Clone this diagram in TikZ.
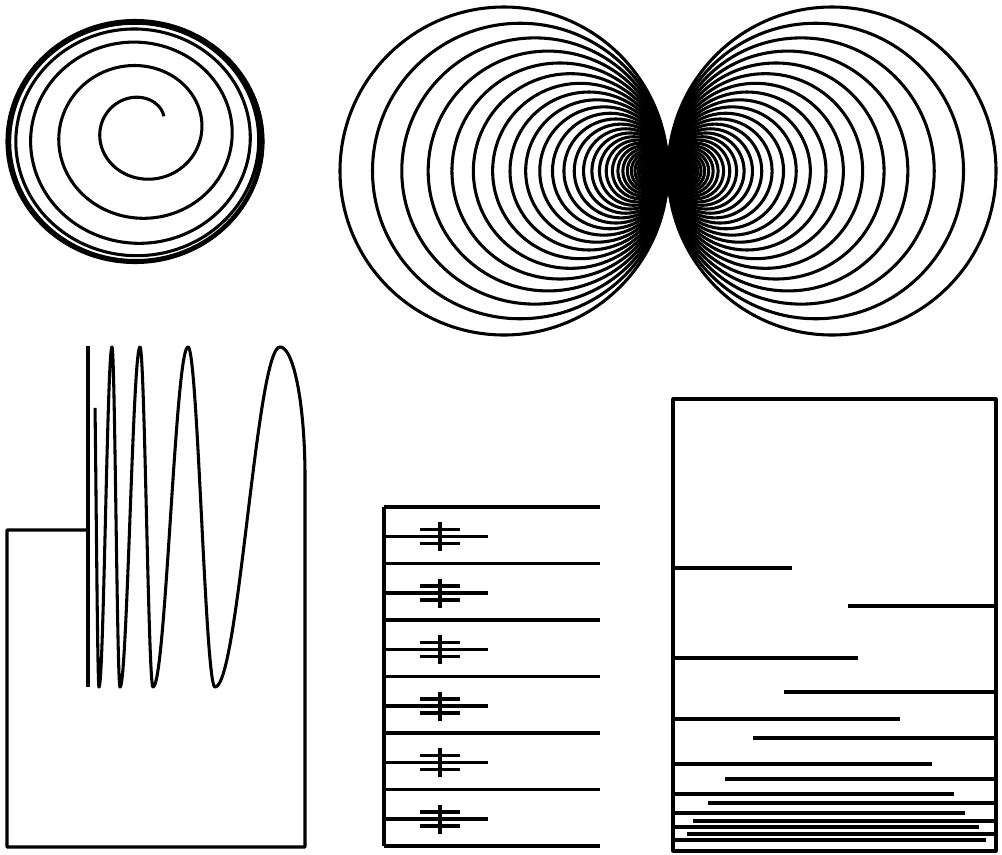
\documentclass[tikz,border=0pt]{standalone}
\usepackage{tikz}
\begin{document}
\begin{tikzpicture}[x=0.75pt,y=0.75pt,yscale=-1]
  \tikzset{
    curve/.style={line width=2.3pt, line join=round},
    ring/.style={line width=2.3pt},
    bar/.style={line width=2.3pt}
  }
  \useasboundingbox (0,0) rectangle (1002,854);

  % spiral winding onto its limit circle
  \draw[curve] (135,141.5) ellipse[x radius=128, y radius=121];
  \draw[curve] plot[domain=0:6, samples=900, variable=\u, smooth]
    ({135+8*exp(-0.4*\u-0.1*\u*\u)+128*(1-0.82*exp(-0.4*\u-0.1*\u*\u))*cos(25+360*\u)},
     {141.5-16*exp(-0.4*\u-0.1*\u*\u)-121*(1-0.82*exp(-0.4*\u-0.1*\u*\u))*sin(25+360*\u)});

  % two families of circles tangent at one point
  \foreach \k in {0,...,42}{
    \pgfmathsetmacro\rk{164/1.11^\k}
    \draw[ring] (668-\rk,171) circle[radius=\rk];
    \draw[ring] (668+\rk,171) circle[radius=\rk];
  }

  % sine curve, its limit segment and the closing arc
  \draw[curve] (88,346) -- (88,687);
  \draw[curve] plot[domain=0.278:1, samples=30] ({93.5+5.5*\x},{517-170*cos(180*\x)})
    -- plot[domain=0:1, samples=40] ({99+13*\x},{517+170*cos(180*\x)})
    -- plot[domain=0:1, samples=40] ({112+8*\x},{517-170*cos(180*\x)})
    -- plot[domain=0:1, samples=40] ({120+20*\x},{517+170*cos(180*\x)})
    -- plot[domain=0:1, samples=40] ({140+13*\x},{517-170*cos(180*\x)})
    -- plot[domain=0:1, samples=40] ({153+35*\x},{517+170*cos(180*\x)})
    -- plot[domain=0:1, samples=40] ({188+27*\x},{517-170*cos(180*\x)})
    -- plot[domain=0:1, samples=40] ({215+65*\x},{517+170*cos(180*\x)})
    -- plot[domain=0:90, samples=30] ({280+25*sin(\x)},{347+130*(1-cos(\x))})
    -- (305,847) -- (7,847) -- (7,530) -- (88,530);

  % comb with crossed teeth
  \draw[curve] (384,507) -- (384,846);
  \foreach \k in {0,...,6}
    \draw[curve] (384,507+56.5*\k) -- (600,507+56.5*\k);
  \foreach \k in {0,...,5}{
    \draw[curve] (384,536.5+56.5*\k) -- (488,536.5+56.5*\k);
    \draw[bar] (440,522+56.5*\k) -- (440,551+56.5*\k);
    \draw[bar] (420,529.5+56.5*\k) -- (460,529.5+56.5*\k);
    \draw[bar] (420,543.5+56.5*\k) -- (460,543.5+56.5*\k);
  }

  % box with alternating bars piling up at the bottom
  \draw[curve] (673,399) rectangle (996,851);
  \foreach \y/\xa/\xb in {568/673/792, 606/848/996, 658/673/858, 692/784/996,
      719/673/900, 738/753/996, 764/673/932, 779/725/996, 794/673/954,
      803/708/996, 813/673/965, 821/693/996, 827/673/979, 834/687/996,
      840/673/986}
    \draw[curve] (\xa,\y) -- (\xb,\y);
\end{tikzpicture}
\end{document}
